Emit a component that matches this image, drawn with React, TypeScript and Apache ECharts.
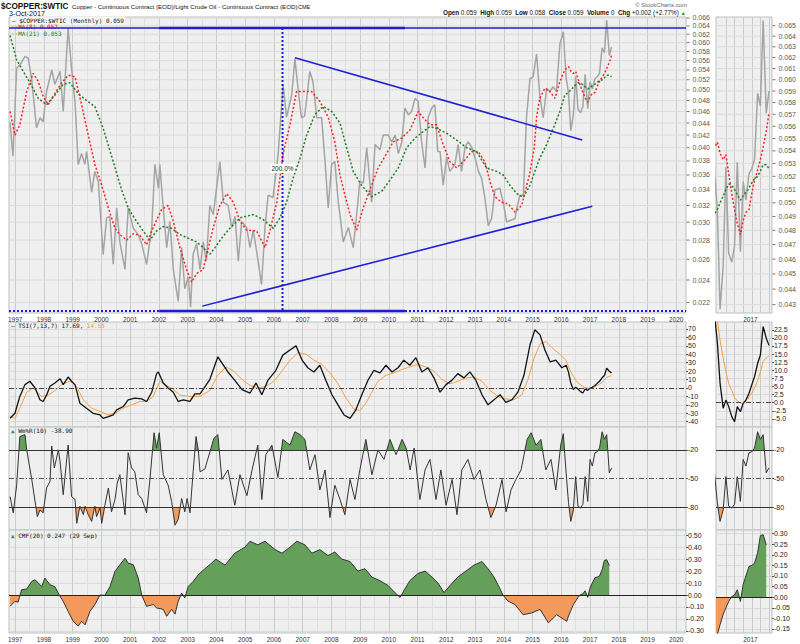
import React, { useEffect, useRef, useState } from 'react';
import * as echarts from 'echarts';

type P = [number, number];

// ---------- axis ticks ----------
const YEARS = [1997, 1998, 1999, 2000, 2001, 2002, 2003, 2004, 2005, 2006, 2007, 2008, 2009, 2010, 2011, 2012, 2013, 2014, 2015, 2016, 2017, 2018, 2019, 2020];
const HALF_YEARS = [1997.5, 1998.5, 1999.5, 2000.5, 2001.5, 2002.5, 2003.5, 2004.5, 2005.5, 2006.5, 2007.5, 2008.5, 2009.5, 2010.5, 2011.5, 2012.5, 2013.5, 2014.5, 2015.5, 2016.5, 2017.5, 2018.5, 2019.5];
const SIDE_QTRS = [2016.5, 2016.75, 2017, 2017.25, 2017.5, 2017.75];
const SIDE_YEAR_LABELS = [2017];
const MAIN_TICKS = [0.022, 0.024, 0.026, 0.028, 0.03, 0.032, 0.034, 0.036, 0.038, 0.04, 0.042, 0.044, 0.046, 0.048, 0.05, 0.052, 0.054, 0.056, 0.058, 0.06, 0.062, 0.064, 0.066];
const SIDE_TICKS = [0.043, 0.044, 0.045, 0.046, 0.047, 0.048, 0.049, 0.05, 0.051, 0.052, 0.053, 0.054, 0.055, 0.056, 0.057, 0.058, 0.059, 0.06, 0.061, 0.062, 0.063, 0.064, 0.065];
const TSI_TICKS = [-40, -30, -20, -10, 0, 10, 20, 30, 40, 50, 60, 70];
const TSI_SIDE_TICKS = [-5, -2.5, 0, 2.5, 5, 7.5, 10, 12.5, 15, 17.5, 20, 22.5];
const WR_TICKS = [-80, -50, -20];
const CMF_TICKS = [-0.3, -0.2, -0.1, 0, 0.1, 0.2, 0.3, 0.4, 0.5];
const CMF_SIDE_TICKS = [-0.15, -0.1, -0.05, 0, 0.05, 0.1, 0.15, 0.2, 0.25, 0.3];

// ---------- data ----------
const PRICE: P[] = [
  [1996.82, 0.0442], [1996.92, 0.0387], [1997.05, 0.0544], [1997.17, 0.0551], [1997.34, 0.0569], [1997.45, 0.0565],
  [1997.57, 0.0522], [1997.74, 0.0432], [1997.86, 0.0449], [1997.97, 0.0442], [1998.09, 0.0497], [1998.27, 0.054],
  [1998.38, 0.0511], [1998.56, 0.0537], [1998.67, 0.046], [1998.84, 0.0635], [1998.96, 0.0543], [1999.08, 0.0478],
  [1999.19, 0.0375], [1999.31, 0.0391], [1999.42, 0.0375], [1999.48, 0.0394], [1999.66, 0.0337], [1999.77, 0.0365],
  [1999.89, 0.0351], [2000.06, 0.0265], [2000.18, 0.0305], [2000.29, 0.0307], [2000.41, 0.0255], [2000.53, 0.0317],
  [2000.64, 0.0278], [2000.82, 0.025], [2000.93, 0.0317], [2001.11, 0.0293], [2001.28, 0.0286], [2001.4, 0.0276],
  [2001.57, 0.0255], [2001.75, 0.0294], [2001.86, 0.0375], [2001.98, 0.0342], [2002.03, 0.0375], [2002.15, 0.0317],
  [2002.27, 0.0272], [2002.38, 0.0301], [2002.5, 0.025], [2002.67, 0.0221], [2002.79, 0.0272], [2002.9, 0.0232],
  [2003.02, 0.0243], [2003.1, 0.0216], [2003.19, 0.0265], [2003.31, 0.0276], [2003.43, 0.025], [2003.54, 0.0278],
  [2003.65, 0.0258], [2003.77, 0.032], [2003.89, 0.0309], [2004.12, 0.0379], [2004.24, 0.0324], [2004.41, 0.032],
  [2004.53, 0.0294], [2004.65, 0.0307], [2004.76, 0.0258], [2004.88, 0.0301], [2005.05, 0.0294], [2005.17, 0.0272],
  [2005.28, 0.0291], [2005.4, 0.0268], [2005.57, 0.0236], [2005.69, 0.0294], [2005.8, 0.0333], [2005.97, 0.033],
  [2006.15, 0.0391], [2006.32, 0.0511], [2006.44, 0.045], [2006.62, 0.049], [2006.73, 0.0564], [2006.85, 0.0497],
  [2006.96, 0.0449], [2007.07, 0.0452], [2007.25, 0.0537], [2007.36, 0.0516], [2007.49, 0.0449], [2007.66, 0.0449],
  [2007.78, 0.0379], [2007.89, 0.0317], [2008.01, 0.0375], [2008.12, 0.0379], [2008.24, 0.0324], [2008.3, 0.0309],
  [2008.41, 0.0278], [2008.59, 0.0294], [2008.76, 0.0272], [2008.88, 0.0309], [2008.99, 0.0351], [2009.11, 0.0349],
  [2009.23, 0.04], [2009.4, 0.0324], [2009.52, 0.0405], [2009.69, 0.0397], [2009.8, 0.042], [2009.98, 0.042],
  [2010.1, 0.0409], [2010.22, 0.042], [2010.33, 0.0391], [2010.45, 0.0409], [2010.56, 0.0466], [2010.68, 0.0454],
  [2010.79, 0.046], [2010.91, 0.0484], [2011.02, 0.0478], [2011.14, 0.0409], [2011.26, 0.037], [2011.37, 0.045],
  [2011.49, 0.0466], [2011.6, 0.0472], [2011.7, 0.0394], [2011.78, 0.0394], [2011.89, 0.0346], [2012.01, 0.0386],
  [2012.12, 0.0365], [2012.3, 0.0375], [2012.41, 0.0405], [2012.53, 0.0365], [2012.65, 0.0401], [2012.76, 0.0409],
  [2012.88, 0.0401], [2013.0, 0.0384], [2013.12, 0.0365], [2013.23, 0.0355], [2013.34, 0.033], [2013.46, 0.0296],
  [2013.58, 0.0305], [2013.69, 0.034], [2013.86, 0.0342], [2013.98, 0.0324], [2014.1, 0.03], [2014.21, 0.0302],
  [2014.39, 0.0304], [2014.44, 0.0315], [2014.56, 0.0333], [2014.68, 0.0333], [2014.79, 0.045], [2014.91, 0.0522],
  [2015.02, 0.0526], [2015.14, 0.0574], [2015.25, 0.049], [2015.37, 0.0449], [2015.49, 0.0503], [2015.6, 0.0497],
  [2015.72, 0.0506], [2015.83, 0.0497], [2015.95, 0.0596], [2016.07, 0.0626], [2016.17, 0.0522],
  [2016.25, 0.0495], [2016.33, 0.0427], [2016.42, 0.0455], [2016.5, 0.0527], [2016.58, 0.0464], [2016.67, 0.0458],
  [2016.75, 0.0469], [2016.83, 0.0531], [2016.92, 0.0465], [2017.0, 0.0516], [2017.08, 0.0502], [2017.17, 0.0522],
  [2017.25, 0.0526], [2017.33, 0.0533], [2017.42, 0.0588], [2017.5, 0.0577], [2017.58, 0.0655], [2017.67, 0.0571],
  [2017.75, 0.059],
];

const MA8: P[] = [
  [1996.82, 0.046], [1996.99, 0.042], [1997.16, 0.0437], [1997.4, 0.0497], [1997.62, 0.0533], [1997.8, 0.0517],
  [1997.97, 0.0488], [1998.15, 0.0472], [1998.32, 0.0488], [1998.62, 0.0514], [1998.85, 0.0529], [1999.08, 0.0526],
  [1999.31, 0.0472], [1999.54, 0.042], [1999.77, 0.0375], [2000.01, 0.0346], [2000.24, 0.0317], [2000.47, 0.0293],
  [2000.64, 0.0286], [2000.88, 0.028], [2001.11, 0.0287], [2001.34, 0.0285], [2001.57, 0.0275], [2001.8, 0.0294],
  [2002.09, 0.0315], [2002.32, 0.032], [2002.5, 0.0301], [2002.73, 0.0272], [2002.96, 0.025], [2003.14, 0.0238],
  [2003.31, 0.0246], [2003.54, 0.025], [2003.72, 0.0272], [2003.89, 0.0294], [2004.12, 0.032], [2004.36, 0.0335],
  [2004.59, 0.0324], [2004.82, 0.0301], [2005.05, 0.0291], [2005.4, 0.029], [2005.69, 0.0272], [2005.86, 0.029],
  [2006.1, 0.0324], [2006.32, 0.0391], [2006.56, 0.0437], [2006.79, 0.0497], [2007.02, 0.0497], [2007.31, 0.0497],
  [2007.6, 0.0478], [2007.89, 0.045], [2008.12, 0.0409], [2008.3, 0.036], [2008.47, 0.0333], [2008.65, 0.0309],
  [2008.88, 0.0291], [2009.11, 0.0317], [2009.34, 0.034], [2009.63, 0.037], [2009.92, 0.0391], [2010.15, 0.0409],
  [2010.44, 0.0415], [2010.73, 0.0428], [2011.02, 0.046], [2011.2, 0.0449], [2011.43, 0.0437], [2011.66, 0.0437],
  [2011.89, 0.0405], [2012.12, 0.0379], [2012.36, 0.037], [2012.59, 0.0379], [2012.88, 0.0394], [2013.11, 0.0394],
  [2013.34, 0.0379], [2013.52, 0.0351], [2013.69, 0.0331], [2013.92, 0.0324], [2014.15, 0.0322], [2014.39, 0.0312],
  [2014.62, 0.032], [2014.89, 0.036], [2015.06, 0.04], [2015.14, 0.045], [2015.25, 0.0484], [2015.43, 0.0503],
  [2015.6, 0.0497], [2015.78, 0.0484], [2015.95, 0.0516], [2016.12, 0.054],
  [2016.25, 0.0547], [2016.33, 0.0538], [2016.42, 0.0533], [2016.5, 0.0537], [2016.58, 0.0522], [2016.67, 0.0507],
  [2016.75, 0.0495], [2016.83, 0.0485], [2016.92, 0.0477], [2017.0, 0.0487], [2017.08, 0.0493], [2017.17, 0.0495],
  [2017.25, 0.0507], [2017.33, 0.0517], [2017.42, 0.0525], [2017.5, 0.0533], [2017.58, 0.0543], [2017.67, 0.0556],
  [2017.75, 0.0571],
];

const MA21: P[] = [
  [1996.82, 0.0617], [1997.05, 0.0561], [1997.28, 0.0537], [1997.51, 0.0514], [1997.8, 0.0484], [1998.09, 0.0472],
  [1998.38, 0.049], [1998.67, 0.0511], [1998.9, 0.0514], [1999.19, 0.0493], [1999.48, 0.048], [1999.77, 0.0469],
  [2000.06, 0.0431], [2000.41, 0.0379], [2000.7, 0.034], [2000.93, 0.0317], [2001.22, 0.0301], [2001.45, 0.029],
  [2001.69, 0.028], [2001.92, 0.029], [2002.15, 0.0295], [2002.44, 0.0293], [2002.73, 0.0286], [2003.02, 0.0282],
  [2003.31, 0.0278], [2003.54, 0.0272], [2003.77, 0.0265], [2003.95, 0.0272], [2004.18, 0.0282], [2004.47, 0.0293],
  [2004.82, 0.0305], [2005.28, 0.0309], [2005.63, 0.0303], [2005.98, 0.0293], [2006.21, 0.0305], [2006.44, 0.0324],
  [2006.67, 0.0356], [2006.91, 0.0384], [2007.14, 0.042], [2007.43, 0.0455], [2007.72, 0.0469], [2008.01, 0.046],
  [2008.3, 0.044], [2008.53, 0.04], [2008.76, 0.0365], [2009.05, 0.0346], [2009.4, 0.0331], [2009.75, 0.0338],
  [2010.04, 0.0353], [2010.33, 0.037], [2010.62, 0.04], [2010.91, 0.0415], [2011.2, 0.0426], [2011.43, 0.0434],
  [2011.66, 0.0431], [2012.01, 0.0423], [2012.36, 0.0412], [2012.71, 0.04], [2013.05, 0.0394], [2013.4, 0.037],
  [2013.75, 0.0365], [2013.98, 0.036], [2014.21, 0.0346], [2014.45, 0.0335], [2014.68, 0.033], [2014.91, 0.0346],
  [2015.08, 0.0365], [2015.25, 0.0384], [2015.49, 0.0405], [2015.72, 0.0431], [2015.95, 0.046], [2016.12, 0.049],
  [2016.25, 0.0495], [2016.33, 0.05], [2016.42, 0.0505], [2016.5, 0.051], [2016.58, 0.0514], [2016.67, 0.0513],
  [2016.75, 0.051], [2016.83, 0.0506], [2016.92, 0.0502], [2017.0, 0.0505], [2017.08, 0.0508], [2017.17, 0.0511],
  [2017.25, 0.0515], [2017.33, 0.0518], [2017.42, 0.052], [2017.5, 0.0524], [2017.58, 0.0529], [2017.67, 0.0529],
  [2017.75, 0.0526],
];

const TSI: P[] = [
  [1996.82, -36], [1996.99, -30], [1997.16, -10], [1997.34, 4], [1997.51, 8], [1997.69, 0], [1997.86, -14],
  [1997.97, -16], [1998.09, -8.5], [1998.21, 2], [1998.38, 6], [1998.56, 11], [1998.67, 4], [1998.84, 13],
  [1998.96, 8], [1999.08, 4], [1999.25, -18], [1999.48, -24], [1999.71, -30], [1999.95, -32], [2000.06, -36],
  [2000.24, -34], [2000.41, -32], [2000.53, -26], [2000.76, -22], [2000.93, -14], [2001.16, -12], [2001.4, -13],
  [2001.57, -16], [2001.75, -5], [2001.92, 17], [2001.98, 19], [2002.15, 6], [2002.32, 0], [2002.5, -5],
  [2002.67, -16], [2002.85, -14], [2003.08, -16], [2003.25, -7], [2003.43, -7], [2003.77, 10], [2004.05, 37],
  [2004.4, 19], [2004.64, 9], [2004.89, -2], [2005.17, -6], [2005.38, 6], [2005.58, -8], [2005.79, 9],
  [2006.07, 21], [2006.31, 39], [2006.56, 45], [2006.77, 50], [2006.98, 33], [2007.18, 24], [2007.39, 19],
  [2007.6, 27], [2007.81, 9], [2008.02, -8], [2008.23, -20], [2008.44, -32], [2008.65, -36], [2008.85, -26],
  [2009.06, -8], [2009.27, 9], [2009.48, 21], [2009.69, 18], [2009.9, 27], [2010.11, 19], [2010.32, 24],
  [2010.52, 33], [2010.73, 27], [2010.94, 36], [2011.15, 19], [2011.36, 24], [2011.57, 12], [2011.78, -5],
  [2011.99, 4], [2012.19, 9], [2012.4, 17], [2012.61, 12], [2012.82, 19], [2013.03, 9], [2013.24, -8],
  [2013.45, -20], [2013.66, -14], [2013.87, -8], [2014.07, -17], [2014.28, -14], [2014.49, -5], [2014.7, 15],
  [2014.91, 51], [2015.08, 69], [2015.26, 63], [2015.43, 45], [2015.61, 31], [2015.81, 33], [2016.02, 24],
  [2016.17, 27], [2016.25, 18.8], [2016.33, 6], [2016.42, -1.7], [2016.5, 0.8], [2016.58, -1.2], [2016.67, -4.3],
  [2016.75, -5.9], [2016.83, -1.2], [2016.92, -2.8], [2017.0, -0.2], [2017.08, 0.8], [2017.17, 2.9], [2017.25, 5.5],
  [2017.33, 8], [2017.42, 12.1], [2017.5, 14.7], [2017.58, 23.5], [2017.67, 19.9], [2017.75, 17.69],
];

const TSI_SIGNAL: P[] = [
  [1996.82, -34], [1996.99, -36], [1997.16, -24], [1997.4, -5], [1997.62, 0], [1997.91, -10], [1998.15, -8.5],
  [1998.38, -3], [1998.62, 4], [1998.9, 8], [1999.13, 2], [1999.37, -14], [1999.66, -24], [1999.95, -28],
  [2000.24, -32], [2000.47, -30], [2000.76, -24], [2001.05, -20], [2001.34, -16], [2001.57, -16], [2001.8, -10],
  [2002.03, 8], [2002.21, 4], [2002.44, 0], [2002.73, -8.5], [2003.08, -10], [2003.43, -10], [2003.77, -3],
  [2004.05, 15], [2004.33, 25], [2004.61, 20], [2004.89, 10], [2005.17, 3], [2005.44, 0], [2005.72, 2],
  [2006.0, 8], [2006.28, 20], [2006.56, 33], [2006.84, 42], [2007.12, 40], [2007.39, 33], [2007.67, 28],
  [2007.95, 18], [2008.23, 5], [2008.51, -12], [2008.78, -25], [2008.99, -27], [2009.2, -18], [2009.41, -5],
  [2009.62, 8], [2009.9, 15], [2010.18, 18], [2010.46, 22], [2010.73, 25], [2011.01, 28], [2011.29, 25],
  [2011.57, 20], [2011.85, 10], [2012.13, 5], [2012.4, 8], [2012.68, 12], [2012.96, 13], [2013.24, 8],
  [2013.52, -3], [2013.8, -10], [2014.07, -13], [2014.35, -14], [2014.63, -8], [2014.84, 10], [2015.05, 35],
  [2015.26, 52], [2015.47, 55], [2015.67, 48], [2015.95, 40], [2016.16, 33], [2016.25, 25.5], [2016.33, 19.3],
  [2016.42, 13.8], [2016.5, 9.5], [2016.58, 6], [2016.67, 3.8], [2016.75, 1.6], [2016.83, 0.6], [2016.92, -0.2],
  [2017.0, -0.2], [2017.08, 0.5], [2017.17, 1.8], [2017.25, 3], [2017.33, 4.5], [2017.42, 6.8], [2017.5, 9.5],
  [2017.58, 12.7], [2017.67, 13.8], [2017.75, 14.55],
];

const WR: P[] = [
  [1996.82, -69], [1996.93, -86], [1997.05, -57], [1997.16, -6], [1997.34, -4], [1997.4, -20], [1997.57, -50],
  [1997.77, -90], [1997.86, -83], [1997.97, -86], [1998.09, -60], [1998.21, -53], [1998.27, -16], [1998.36, -39],
  [1998.5, -20], [1998.56, -32], [1998.67, -67], [1998.84, -15], [1998.96, -69], [1999.08, -72], [1999.14, -97],
  [1999.25, -79], [1999.37, -88], [1999.43, -79], [1999.54, -88], [1999.66, -95], [1999.77, -79], [1999.83, -90],
  [1999.95, -81], [2000.01, -97], [2000.12, -78], [2000.24, -60], [2000.35, -85], [2000.47, -72], [2000.55, -55],
  [2000.64, -46], [2000.76, -74], [2000.82, -88], [2000.93, -23], [2001.05, -39], [2001.16, -43], [2001.28, -67],
  [2001.4, -71], [2001.57, -86], [2001.69, -50], [2001.83, -2], [2001.92, -18], [2002.01, -2], [2002.15, -46],
  [2002.32, -57], [2002.44, -74], [2002.56, -99], [2002.67, -93], [2002.79, -71], [2002.9, -85], [2002.98, -71],
  [2003.08, -86], [2003.19, -43], [2003.29, -6], [2003.37, -20], [2003.43, -43], [2003.6, -40], [2003.91, -8],
  [2004.05, -4], [2004.19, -51], [2004.4, -41], [2004.64, -78], [2004.82, -46], [2005.06, -68], [2005.24, -41],
  [2005.44, -15], [2005.58, -72], [2005.72, -25], [2005.93, -15], [2006.14, -49], [2006.31, -9], [2006.56, -15],
  [2006.73, -1], [2006.91, -4], [2007.08, -9], [2007.25, -41], [2007.43, -25], [2007.6, -62], [2007.78, -41],
  [2007.95, -91], [2008.12, -57], [2008.3, -72], [2008.47, -88], [2008.65, -51], [2008.82, -72], [2008.99, -41],
  [2009.2, -9], [2009.41, -46], [2009.62, -20], [2009.83, -30], [2010.04, -9], [2010.25, -25], [2010.46, -9],
  [2010.6, -18], [2010.74, -41], [2010.88, -18], [2011.08, -72], [2011.26, -41], [2011.43, -30], [2011.64, -72],
  [2011.81, -41], [2011.99, -78], [2012.2, -51], [2012.37, -88], [2012.54, -41], [2012.75, -30], [2012.96, -51],
  [2013.17, -41], [2013.38, -72], [2013.55, -91], [2013.73, -78], [2013.94, -51], [2014.08, -85], [2014.25, -62],
  [2014.42, -51], [2014.6, -41], [2014.81, -9], [2014.95, -2], [2015.12, -15], [2015.29, -9], [2015.46, -41],
  [2015.64, -30], [2015.81, -62], [2015.98, -15], [2016.07, -3], [2016.16, -41], [2016.25, -75], [2016.33, -95],
  [2016.42, -83], [2016.5, -48], [2016.58, -79], [2016.67, -81], [2016.75, -77], [2016.83, -48], [2016.92, -74],
  [2017.0, -30], [2017.08, -37], [2017.17, -23], [2017.25, -22], [2017.33, -18], [2017.42, -1], [2017.5, -9],
  [2017.58, -4], [2017.67, -44], [2017.75, -38.9],
];

const CMF: P[] = [
  [1996.82, -0.095], [1996.99, -0.053], [1997.1, -0.06], [1997.22, 0.044], [1997.4, 0.05], [1997.57, 0.113],
  [1997.69, 0.128], [1997.86, 0.086], [1997.92, 0.07], [1998.03, 0.142], [1998.21, 0.086], [1998.38, 0.07],
  [1998.53, 0.0], [1998.67, -0.053], [1998.84, -0.137], [1999.02, -0.22], [1999.19, -0.26], [1999.31, -0.22],
  [1999.43, -0.25], [1999.6, -0.137], [1999.77, -0.08], [1999.95, 0.0], [2000.12, -0.003], [2000.3, 0.072],
  [2000.47, 0.197], [2000.64, 0.253], [2000.82, 0.308], [2000.93, 0.267], [2001.11, 0.253], [2001.28, 0.142],
  [2001.4, 0.0], [2001.57, -0.095], [2001.8, -0.08], [2001.92, -0.108], [2002.15, -0.12], [2002.27, -0.178],
  [2002.44, -0.12], [2002.56, -0.16], [2002.67, -0.053], [2002.79, 0.017], [2002.9, -0.025], [2003.02, 0.072],
  [2003.19, 0.113], [2003.37, 0.17], [2003.6, 0.22], [2003.8, 0.26], [2003.98, 0.3], [2004.3, 0.25],
  [2004.64, 0.35], [2004.99, 0.4], [2005.17, 0.45], [2005.44, 0.42], [2005.69, 0.45], [2006.04, 0.38],
  [2006.28, 0.35], [2006.56, 0.4], [2006.8, 0.45], [2007.08, 0.42], [2007.32, 0.35], [2007.6, 0.38],
  [2007.88, 0.33], [2008.12, 0.36], [2008.37, 0.3], [2008.65, 0.28], [2008.92, 0.2], [2009.17, 0.22],
  [2009.41, 0.15], [2009.69, 0.12], [2009.97, 0.08], [2010.21, 0.02], [2010.39, -0.02], [2010.56, 0.05],
  [2010.73, 0.12], [2011.01, 0.18], [2011.26, 0.2], [2011.5, 0.15], [2011.71, 0.1], [2011.92, 0.02],
  [2012.13, 0.08], [2012.4, 0.15], [2012.68, 0.2], [2012.96, 0.25], [2013.24, 0.28], [2013.45, 0.22],
  [2013.66, 0.15], [2013.87, 0.05], [2013.97, 0.0], [2014.14, -0.05], [2014.39, -0.08], [2014.67, -0.165],
  [2014.97, -0.15], [2015.26, -0.12], [2015.55, -0.233], [2015.84, -0.165], [2016.19, -0.22], [2016.25, -0.176],
  [2016.33, -0.13], [2016.42, -0.08], [2016.5, -0.05], [2016.58, -0.02], [2016.67, 0.003], [2016.75, 0.01],
  [2016.83, 0.035], [2016.92, -0.02], [2017.0, 0.06], [2017.08, 0.1], [2017.17, 0.145], [2017.25, 0.15],
  [2017.33, 0.16], [2017.42, 0.21], [2017.5, 0.29], [2017.58, 0.295], [2017.67, 0.247],
];

// ---------- annotations (values) ----------
const H_TOP = 0.0635;
const H_BOTTOM = 0.0213;
const RECT_X = [2002.01, 2010.56];
const VLINE_X = 2006.3;
const TREND_UPPER: P[] = [[2006.73, 0.0566], [2016.73, 0.0412]];
const TREND_LOWER: P[] = [[2003.51, 0.0217], [2017.08, 0.0319]];
const PCT_LABEL: P[] = [[2006.3, 0.0369]];
const WR_LEVELS = { high: -20, mid: -50, low: -80 };

const FONT = '"Liberation Sans", Arial, sans-serif';
const MONO = '"DejaVu Sans Mono", monospace';
const BLUE = '#1d1dd8';
const GREEN = '#64a05a';
const ORANGE = '#f4995c';
const GRID_BG = '#efefef';
const GRID_BORDER = '#b9c3be';

const MAIN_X = { min: 1996.783, max: 2020.339 };
const SIDE_X = { min: 2016.212, max: 2017.837 };

function buildOption(useCustom: boolean) {
  const boxes = [
    { left: 9, top: 17, width: 677, height: 296 },
    { left: 716, top: 17, width: 56, height: 296 },
    { left: 9, top: 322, width: 677, height: 105 },
    { left: 716, top: 322, width: 56, height: 105 },
    { left: 9, top: 427, width: 677, height: 103 },
    { left: 716, top: 427, width: 56, height: 103 },
    { left: 9, top: 530, width: 677, height: 103 },
    { left: 716, top: 530, width: 56, height: 103 },
  ];
  const grid = boxes.map((b) => ({
    ...b,
    show: true,
    backgroundColor: GRID_BG,
    borderColor: GRID_BORDER,
    borderWidth: 1,
    containLabel: false,
  }));

  const xAxis: any[] = boxes.map((_, i) => {
    const side = i % 2 === 1;
    const showLab = i === 0 || i === 1 || i === 6 || i === 7;
    return {
      type: 'value',
      gridIndex: i,
      min: side ? SIDE_X.min : MAIN_X.min,
      max: side ? SIDE_X.max : MAIN_X.max,
      axisLine: { show: false },
      axisTick: { show: false, customValues: useCustom ? (side ? SIDE_QTRS : YEARS) : undefined },
      axisLabel: {
        show: showLab,
        customValues: useCustom ? (side ? SIDE_YEAR_LABELS : YEARS) : undefined,
        formatter: (v: number) => String(Math.round(v)),
        fontSize: 6.5,
        fontFamily: FONT,
        color: '#333',
        margin: 3,
        align: side ? 'left' : 'center',
      },
      splitLine: { show: true, lineStyle: { color: '#cbcbcb', width: 1 } },
    };
  });
  if (useCustom) {
    [0, 2, 4, 6].forEach((g) => {
      xAxis.push({
        type: 'value',
        gridIndex: g,
        position: 'top',
        min: MAIN_X.min,
        max: MAIN_X.max,
        axisLine: { show: false },
        axisTick: { show: false, customValues: HALF_YEARS },
        axisLabel: { show: false },
        splitLine: { show: true, lineStyle: { color: '#e0e0e0', width: 1 } },
      });
    });
  }

  const yDefs: any[] = [
    { type: 'log', min: 0.02113, max: 0.06625, ticks: MAIN_TICKS, fmt: (v: number) => v.toFixed(3) },
    { type: 'log', min: 0.04247, max: 0.06584, ticks: SIDE_TICKS, fmt: (v: number) => v.toFixed(3) },
    { type: 'value', min: -46.3, max: 78.3, ticks: TSI_TICKS, fmt: (v: number) => String(Math.round(v)) },
    { type: 'value', min: -7.5, max: 24.9, ticks: TSI_SIDE_TICKS, fmt: (v: number) => v.toFixed(1) },
    { type: 'value', min: -104, max: 4, ticks: WR_TICKS, fmt: (v: number) => String(Math.round(v)) },
    { type: 'value', min: -104, max: 4, ticks: WR_TICKS, fmt: (v: number) => String(Math.round(v)) },
    { type: 'value', min: -0.318, max: 0.544, ticks: CMF_TICKS, fmt: (v: number) => v.toFixed(2) },
    { type: 'value', min: -0.169, max: 0.317, ticks: CMF_SIDE_TICKS, fmt: (v: number) => v.toFixed(2) },
  ];
  const series: any[] = [];
  const add = (s: any) => {
    series.push({ symbol: 'none', showSymbol: false, silent: true, animation: false, ...s });
    return series.length - 1;
  };
  const lineS = (data: any[], g: number, lineStyle: any, z = 2, extra: any = {}) =>
    add({ type: 'line', xAxisIndex: g, yAxisIndex: g, data, lineStyle, z, ...extra });

  const yAxis = yDefs.map((d, i) => {
    const isLog = d.type === 'log';
    const custom = useCustom && !isLog;
    return {
      type: d.type,
      gridIndex: i,
      position: 'right',
      min: d.min,
      max: d.max,
      axisLine: { show: false },
      axisTick: { show: custom, length: 2, customValues: custom ? d.ticks : undefined, lineStyle: { color: '#555', width: 1 } },
      axisLabel: {
        show: custom,
        customValues: custom ? d.ticks : undefined,
        formatter: d.fmt,
        fontSize: 7,
        fontFamily: FONT,
        color: '#222',
        margin: 2,
      },
      splitLine: { show: custom && i !== 4 && i !== 5, lineStyle: { color: '#dcdcdc', width: 1 } },
    };
  });

  // horizontal segments spanning an x-range, one per value, with breaks between them
  const hSegs = (values: number[], x0: number, x1: number) => {
    const out: any[] = [];
    values.forEach((v) => {
      out.push([x0, v], [x1, v], [x1, '-']);
    });
    return out;
  };

  // log axes: gridlines via line segments, labels via scatter at the right edge
  [0, 1].forEach((g) => {
    const ticks = yDefs[g].ticks as number[];
    const xr = g === 0 ? MAIN_X : SIDE_X;
    lineS(hSegs(ticks, xr.min, xr.max), g, { color: '#dcdcdc', width: 1 }, 1, { connectNulls: false });
    add({
      type: 'scatter', xAxisIndex: g, yAxisIndex: g, clip: false, z: 6,
      data: ticks.map((v) => [xr.max, v]),
      symbol: 'rect', symbolSize: [3, 1], symbolOffset: [2, 0],
      itemStyle: { color: '#555' },
      label: {
        show: true, position: 'right', distance: 3,
        formatter: (p: any) => (p.value[1] as number).toFixed(3),
        fontSize: 7, fontFamily: FONT, color: '#222',
      },
    });
  });

  // main + side price panel
  [0, 1].forEach((g) => {
    lineS(PRICE, g, { color: '#a4a4a4', width: 1.5 }, 2);
    lineS(MA8, g, { color: '#ff2121', width: 1.5, type: [2, 2] }, 3);
    lineS(MA21, g, { color: '#1f7d1f', width: 1.5, type: [2, 2] }, 3);
  });
  // annotations (main only)
  lineS(hSegs([H_TOP], MAIN_X.min, MAIN_X.max), 0, { color: BLUE, width: 1.4 }, 5);
  lineS(hSegs([H_BOTTOM], MAIN_X.min, MAIN_X.max), 0, { color: BLUE, width: 2, type: [2, 2] }, 5);
  lineS(hSegs([H_TOP, H_BOTTOM], RECT_X[0], RECT_X[1]), 0, { color: BLUE, width: 2.5 }, 5, { connectNulls: false });
  lineS([[VLINE_X, H_TOP], [VLINE_X, H_BOTTOM]], 0, { color: BLUE, width: 2, type: [2, 2] }, 5);
  lineS(TREND_UPPER, 0, { color: BLUE, width: 1.5 }, 5);
  lineS(TREND_LOWER, 0, { color: BLUE, width: 1.5 }, 5);
  add({
    type: 'scatter',
    xAxisIndex: 0,
    yAxisIndex: 0,
    data: PCT_LABEL,
    symbol: 'rect',
    symbolSize: 1,
    itemStyle: { color: 'rgba(0,0,0,0)' },
    z: 7,
    label: {
      show: true,
      position: 'inside',
      formatter: '200.0%',
      fontSize: 6.5,
      fontFamily: FONT,
      color: '#222',
      backgroundColor: '#ffffff',
      padding: [1, 1],
      opacity: 1,
    },
  });

  // TSI
  [2, 3].forEach((g) => {
    lineS(TSI, g, { color: '#111', width: 1.3 }, 3, {
      markLine: {
        silent: true,
        symbol: ['none', 'none'],
        label: { show: false },
        lineStyle: { color: '#444', width: 1, type: [5, 2, 1, 2] },
        data: [{ yAxis: 0 }],
      },
    });
    lineS(TSI_SIGNAL, g, { color: '#f5a043', width: 1 }, 2);
  });

  // Williams %R
  const wrUp: number[] = [];
  const wrLow: number[] = [];
  [4, 5].forEach((g) => {
    wrUp.push(lineS(WR, g, { width: 0, opacity: 0 }, 1, { areaStyle: { origin: WR_LEVELS.high, opacity: 1 } }));
    wrLow.push(lineS(WR, g, { width: 0, opacity: 0 }, 1, { areaStyle: { origin: WR_LEVELS.low, opacity: 1 } }));
    lineS(WR, g, { color: '#333', width: 1 }, 3, {
      markLine: {
        silent: true,
        symbol: ['none', 'none'],
        label: { show: false },
        data: [
          { yAxis: WR_LEVELS.high, lineStyle: { color: '#333', width: 1, type: 'solid' } },
          { yAxis: WR_LEVELS.low, lineStyle: { color: '#333', width: 1, type: 'solid' } },
          { yAxis: WR_LEVELS.mid, lineStyle: { color: '#555', width: 1, type: [5, 2, 1, 2] } },
        ],
      },
    });
  });

  // CMF
  const cmfFill: number[] = [];
  [6, 7].forEach((g) => {
    cmfFill.push(lineS(CMF, g, { width: 0, opacity: 0 }, 1, { areaStyle: { origin: 0, opacity: 1 } }));
    lineS(CMF, g, { color: '#333', width: 1 }, 3, {
      markLine: {
        silent: true,
        symbol: ['none', 'none'],
        label: { show: false },
        lineStyle: { color: '#222', width: 1, type: 'solid' },
        data: [{ yAxis: 0 }],
      },
    });
  });

  const clear = 'rgba(0,0,0,0)';
  const visualMap = [
    {
      type: 'piecewise', show: false, seriesIndex: wrUp, dimension: 1,
      pieces: [
        { gt: -300, lte: WR_LEVELS.high, color: clear },
        { gt: WR_LEVELS.high, lte: 300, color: GREEN },
      ],
    },
    {
      type: 'piecewise', show: false, seriesIndex: wrLow, dimension: 1,
      pieces: [
        { gt: -300, lt: WR_LEVELS.low, color: ORANGE },
        { gte: WR_LEVELS.low, lte: 300, color: clear },
      ],
    },
    {
      type: 'piecewise', show: false, seriesIndex: cmfFill, dimension: 1,
      pieces: [
        { gt: -5, lt: 0, color: ORANGE },
        { gte: 0, lte: 5, color: GREEN },
      ],
    },
  ];

  const txt = (x: number, y: number, text: string, style: any = {}, z = 20) => ({
    type: 'text',
    x,
    y,
    z,
    silent: true,
    style: { text, fontFamily: FONT, fontSize: 7, fill: '#111', verticalAlign: 'middle', align: 'left', ...style },
  });

  const graphic = [
    txt(1, 6, '$COPPER:$WTIC', { fontSize: 8.2, fontWeight: 'bold' }),
    txt(72, 6.5, 'Copper - Continuous Contract (EOD)/Light Crude Oil - Continuous Contract (EOD)', { fontSize: 6.2 }),
    txt(298, 6.5, 'CME', { fontSize: 5.5 }),
    txt(9, 13.5, '3-Oct-2017', { fontSize: 7.2 }),
    txt(687, 4.5, '\u00a9 StockCharts.com', { fontSize: 6, fill: '#666', align: 'right' }),
    txt(686, 12.5,
      '{b|Open} 0.059  {b|High} 0.059  {b|Low} 0.058  {b|Close} 0.059  {b|Volume} 0  {b|Chg} +0.002 (+2.77%) {g|\u25b2}',
      {
        fontSize: 6.3,
        align: 'right',
        rich: {
          b: { fontWeight: 'bold', fontSize: 6.3, fontFamily: FONT, fill: '#111' },
          g: { fill: '#2a9a2a', fontSize: 5.5, fontFamily: FONT },
        },
      }),
    txt(11, 20.5, '\u2014 $COPPER:$WTIC (Monthly) 0.059', { fontFamily: MONO, fontSize: 6, backgroundColor: '#f7f7f7', padding: [1, 1] }, 4),
    txt(11, 26, '\u00b7\u00b7MA(8) 0.057', { fontFamily: MONO, fontSize: 6, fill: '#e01010' }, 4),
    txt(11, 33.3, '\u00b7\u00b7MA(21) 0.053', { fontFamily: MONO, fontSize: 6, fill: '#1a7a1a' }, 4),
    txt(11, 325.8, '\u2014 TSI(7,13,7) 17.69, {o|14.55}', {
      fontFamily: MONO, fontSize: 6,
      rich: { o: { fill: '#f39a3a', fontFamily: MONO, fontSize: 6 } },
    }),
    txt(11, 430.7, '{g|\u25b2} Wm%R(10) -38.90', {
      fontFamily: MONO, fontSize: 6,
      rich: { g: { fill: '#3f8a3f', fontFamily: MONO, fontSize: 6 } },
    }),
    txt(11, 535, '{g|\u25b2} CMF(20) 0.247 (29 Sep)', {
      fontFamily: MONO, fontSize: 6,
      rich: { g: { fill: '#3f8a3f', fontFamily: MONO, fontSize: 6 } },
    }),
  ];

  return {
    animation: false,
    backgroundColor: '#ffffff',
    textStyle: { fontFamily: FONT },
    grid,
    xAxis,
    yAxis,
    series,
    visualMap,
    graphic,
  };
}

export default function App() {
  const ref = useRef<HTMLDivElement>(null);
  const [err, setErr] = useState('');
  useEffect(() => {
    if (!ref.current) return;
    let chart = echarts.init(ref.current, null, { renderer: 'svg' });
    try {
      chart.setOption(buildOption(true) as any);
    } catch (e: any) {
      setErr('A: ' + String(e && e.stack ? e.stack : e).slice(0, 500));
      chart.dispose();
      chart = echarts.init(ref.current, null, { renderer: 'svg' });
      try {
        chart.setOption(buildOption(false) as any);
      } catch (e2: any) {
        setErr((s) => s + ' | B: ' + String(e2 && e2.stack ? e2.stack : e2).slice(0, 300));
      }
    }
    return () => {
      chart.dispose();
    };
  }, []);
  return (
    <>
      <div
        ref={ref}
        style={{ position: 'fixed', left: 0, top: 0, width: 800, height: 644, background: '#fff' }}
      />
      {err ? (
        <div style={{ position: 'fixed', left: 0, top: 200, width: 700, fontSize: 10, color: 'red', background: '#fff', zIndex: 10, fontFamily: 'monospace' }}>
          {err}
        </div>
      ) : null}
    </>
  );
}
